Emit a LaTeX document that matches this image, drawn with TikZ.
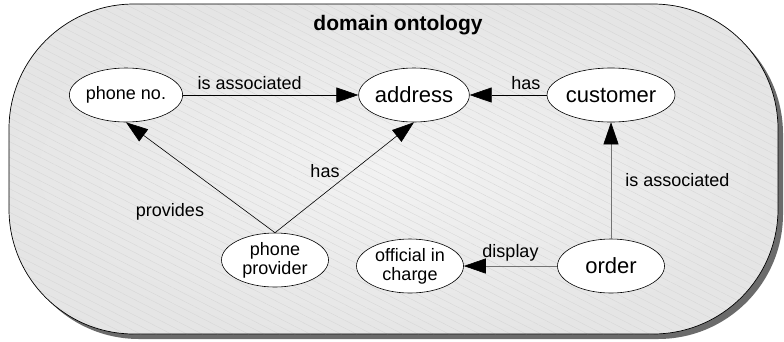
\documentclass[tikz,border=0pt]{standalone}
\usepackage{fontspec}
\setmainfont{Liberation Sans}
\usetikzlibrary{arrows.meta,shapes.geometric,patterns.meta}
\begin{document}
\begin{tikzpicture}[x=1pt,y=-1pt,
  ent/.style={ellipse,draw,line width=0.6pt,fill=white,minimum width=107pt,minimum height=54pt,inner sep=0pt,align=center,font=\fontsize{18}{19}\selectfont},
  bigent/.style={ent,font=\fontsize{22}{23}\selectfont},
  rel/.style={-{Triangle[length=22pt,width=15pt,black]},line width=0.6pt},
  grayrel/.style={rel,draw=black!55},
  lab/.style={font=\fontsize{18}{20}\selectfont,inner sep=0pt},
  frame/.style={rounded corners=125pt}]
\useasboundingbox (0,0) rectangle (784,341);
% shadow
\fill[black!58,frame] (14,9) rectangle (783,339);
% background
\shade[frame,inner color=black!5,outer color=black!10] (9,4) rectangle (778,334);
\path[frame,pattern={Lines[angle=-27,distance=7pt,line width=0.35pt]},pattern color=black!16] (9,4) rectangle (778,334);
\draw[frame,line width=0.7pt] (9,4) rectangle (778,334);
\node[font=\bfseries\fontsize{21}{23}\selectfont,inner sep=0pt] (title) at (398,25) {domain ontology};
% nodes
\node[ent] (pn) at (126,95) {phone no.};
\node[bigent] (addr) at (414,95) {address};
\node[bigent] (cust) at (611,95) {customer};
\node[ent] (pp) at (275,260) {phone\\provider};
\node[ent] (off) at (410,266) {official in\\charge};
\node[bigent] (ord) at (611,266) {order};
% edges
\draw[rel] (pn) -- (addr) node[lab,pos=0.38,above=5pt] {is associated};
\draw[rel] (cust) -- (addr) node[lab,pos=0.27,above=5pt] {has};
\draw[rel] (pp.north) -- (pn.south);
\draw[rel] (pp.north) -- (addr.south);
\node[lab] (lprov) at (170,212) {provides};
\node[lab] (lhas) at (325,171) {has};
\draw[grayrel] (ord) -- (cust) node[lab,pos=0.5,right=14pt,text=black] {is associated};
\draw[grayrel] (ord) -- (off) node[lab,pos=0.5,above=4pt,text=black] {display};
\end{tikzpicture}
\end{document}
